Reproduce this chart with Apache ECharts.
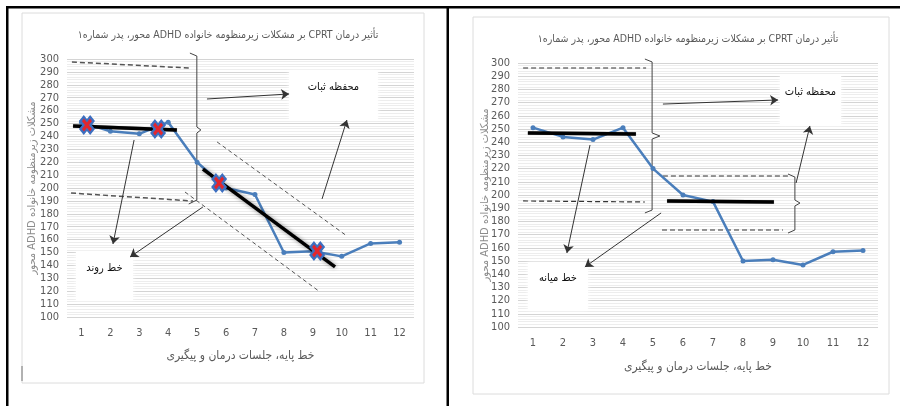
<!DOCTYPE html>
<html><head><meta charset="utf-8">
<script src="https://cdn.jsdelivr.net/npm/echarts@6/dist/echarts.min.js"></script>
<style>html,body{margin:0;padding:0;background:#fff}#c{width:900px;height:406px}</style>
</head><body><div id="c"></div>
<script>
// ---------- data ----------
const sessions = ['1','2','3','4','5','6','7','8','9','10','11','12'];
const scores = [251, 244, 242, 251, 220, 200, 195, 150, 151, 147, 157, 158];
const chartTitle = 'تأثیر درمان CPRT بر مشکلات زیرمنظومه خانواده ADHD محور، پدر شماره۱';
const xName = 'خط پایه، جلسات درمان و پیگیری';
const yName = 'مشکلات زیرمنظومه خانواده ADHD محور';

// left panel (trend) annotations, in [session, score] units
const leftTrendA = [[0.71, 248], [4.3, 245]];
const leftTrendB = [[5.2, 214.7], [9.77, 138.8]];
const leftMarkers = [[1.19, 248.8], [3.65, 245.7], [5.76, 203.9], [9.15, 151.2]];
const leftDashedBold = [[[0.67, 297.7], [4.75, 293]], [[0.64, 196.1], [4.86, 189.9]]];
const leftDashedThin = [[[5.69, 235.7], [10.18, 162.8]], [[4.58, 196.9], [9.25, 119.4]]];
const leftBraces = [[[4.75, 304.6], [4.99, 302.3], [4.99, 247.3], [5.13, 245], [4.99, 242.6], [4.99, 190.7], [4.71, 187.6]]];
const leftArrows = [[[5.34, 269], [8.18, 272.9]], [[9.32, 191.5], [10.18, 252.7]], [[2.82, 237.2], [2.09, 156.6]], [[5.2, 185.3], [2.68, 146.5]]];
const leftBoxes = [
  { text: 'محفظه ثبات', from: [8.18, 290.7], to: [11.25, 253.5] },
  { text: 'خط روند', from: [0.81, 150.4], to: [2.78, 113.2] }
];

// right panel (mean) annotations
const rightMeanA = [[0.83, 247], [4.43, 246.2]];
const rightMeanB = [[5.47, 195.5], [9.03, 194.7]];
const rightDashed = [[[0.67, 296.2], [4.77, 296.2]], [[0.67, 195.5], [4.73, 194.7]], [[5.33, 214.4], [9.5, 214.4]], [[5.3, 173.5], [9.33, 173.5]]];
const rightBraces = [
  [[4.73, 303], [4.97, 300.8], [4.97, 247], [5.23, 244.7], [4.97, 242.4], [4.97, 188.6], [4.73, 186.4]],
  [[9.5, 215.9], [9.73, 213.6], [9.73, 196.2], [9.9, 193.9], [9.73, 191.7], [9.73, 173.5], [9.5, 171.2]]
];
const rightArrows = [[[5.33, 268.9], [9.17, 272]], [[9.77, 209.1], [10.23, 252.3]], [[2.9, 237.9], [2.13, 156.1]], [[5.27, 186.4], [2.73, 145.5]]];
const rightBoxes = [
  { text: 'محفظه ثبات', from: [9.23, 290.2], to: [11.27, 253.0] },
  { text: 'خط میانه', from: [0.83, 149.2], to: [2.83, 112.9] }
];

// ---------- styling ----------
const FONT = "'Liberation Sans Narrow','DejaVu Sans Condensed','DejaVu Sans',sans-serif";
const GRAY = '#595959';
const BLUE = '#4a7ebb';
const rtl = s => '\u202B' + s + '\u202C';

function axesFor(gi) {
  return {
    x: [
      { type: 'category', gridIndex: gi, data: sessions, boundaryGap: true,
        axisLine: { show: false }, axisTick: { show: false },
        axisLabel: { color: GRAY, fontFamily: FONT, fontSize: 11, margin: 11 },
        name: rtl(xName), nameLocation: 'middle', nameGap: gi === 0 ? 33 : 34, nameMoveOverlap: false,
        nameTextStyle: { color: GRAY, fontFamily: FONT, fontSize: 12 } },
      { type: 'value', gridIndex: gi, min: 0.5, max: 12.5, show: false }
    ],
    y: { type: 'value', gridIndex: gi, min: 100, max: 300, interval: 10,
      axisLine: { show: false }, axisTick: { show: false },
      axisLabel: { color: GRAY, fontFamily: FONT, fontSize: 11, margin: 8 },
      splitLine: { lineStyle: { color: '#d4d4d4', width: 1 } },
      minorTick: { show: false, splitNumber: 5 },
      minorSplitLine: { show: true, lineStyle: { color: '#ededed', width: 1 } },
      name: rtl(yName), nameLocation: 'middle', nameRotate: 90, nameGap: gi === 0 ? 29 : 27, nameMoveOverlap: false,
      nameTextStyle: { color: '#8c8c8c', fontFamily: FONT, fontSize: 11 } }
  };
}
const a0 = axesFor(0), a1 = axesFor(1);

function lineSeries(xi, yi, data, color, width, type, extra) {
  return Object.assign({ type: 'lines', coordinateSystem: 'cartesian2d', xAxisIndex: xi, yAxisIndex: yi,
    polyline: true, clip: false, silent: true,
    data: data.map(c => ({ coords: c })),
    lineStyle: { color: color, width: width, type: type, opacity: 1 } }, extra || {});
}
function arrows(xi, yi, data) {
  return { type: 'lines', coordinateSystem: 'cartesian2d', xAxisIndex: xi, yAxisIndex: yi, clip: false, silent: true,
    symbol: ['none', 'arrow'], symbolSize: 8,
    data: data.map(c => ({ coords: c })),
    lineStyle: { color: '#333', width: 1, opacity: 1 } };
}
function boxes(xi, yi, list) {
  return { type: 'scatter', xAxisIndex: xi, yAxisIndex: yi, data: [], silent: true,
    markArea: { silent: true,
      itemStyle: { color: '#ffffff', shadowBlur: 4, shadowColor: 'rgba(255,255,255,0.9)' },
      label: { show: true, position: 'insideTop', distance: 11, color: '#111', fontFamily: FONT, fontSize: 11 },
      data: list.map(b => [{ coord: b.from, name: rtl(b.text) }, { coord: b.to }]) } };
}
function dataLine(xi, yi) {
  return { type: 'line', xAxisIndex: xi, yAxisIndex: yi, data: scores, symbol: 'circle', symbolSize: 5,
    lineStyle: { color: BLUE, width: 2.5 }, itemStyle: { color: BLUE }, z: 3 };
}
function thick(xi, yi, data, glow) {
  return { type: 'line', xAxisIndex: xi, yAxisIndex: yi, data: data, symbol: 'none', clip: false, z: 4,
    lineStyle: { color: '#000', width: 3.5, shadowBlur: glow ? 4 : 1, shadowColor: 'rgba(0,0,0,0.45)' } };
}

const option = {
  animation: false,
  backgroundColor: '#fff',
  title: [
    { text: rtl(chartTitle), left: 223, top: 25, textAlign: 'center',
      textStyle: { color: GRAY, fontFamily: FONT, fontSize: 10.5, fontWeight: 'normal' } },
    { text: rtl(chartTitle), left: 683, top: 29, textAlign: 'center',
      textStyle: { color: GRAY, fontFamily: FONT, fontSize: 10.5, fontWeight: 'normal' } }
  ],
  grid: [
    { left: 67, right: 486, top: 59, bottom: 89 },
    { left: 518, right: 22, top: 63, bottom: 79 }
  ],
  xAxis: [a0.x[0], a0.x[1], a1.x[0], a1.x[1]],
  yAxis: [a0.y, a1.y],
  graphic: [
    { type: 'rect', shape: { x: 22, y: 13, width: 402, height: 370 }, style: { fill: 'none', stroke: '#dcdcdc', lineWidth: 1 }, z: -1 },
    { type: 'rect', shape: { x: 473, y: 17, width: 416, height: 377 }, style: { fill: 'none', stroke: '#dcdcdc', lineWidth: 1 }, z: -1 },
    { type: 'line', shape: { x1: 22, y1: 366, x2: 22, y2: 381 }, style: { stroke: '#777', lineWidth: 1 } },
    { type: 'rect', shape: { x: 6, y: 6, width: 2.5, height: 400 }, style: { fill: '#000' } },
    { type: 'rect', shape: { x: 6, y: 6, width: 894, height: 2.5 }, style: { fill: '#000' } },
    { type: 'rect', shape: { x: 446.5, y: 6, width: 2.5, height: 400 }, style: { fill: '#000' } }
  ],
  series: [
    // left panel
    boxes(1, 0, leftBoxes),
    lineSeries(1, 0, leftDashedBold, '#555', 1.5, [5, 3]),
    lineSeries(1, 0, leftDashedThin, '#555', 1, [4, 3]),
    lineSeries(1, 0, leftBraces, '#444', 1, 'solid'),
    arrows(1, 0, leftArrows),
    dataLine(0, 0),
    thick(1, 0, leftTrendA, false),
    thick(1, 0, leftTrendB, true),
    { type: 'scatter', xAxisIndex: 1, yAxisIndex: 0, data: leftMarkers, z: 5,
      symbol: 'path://M0,3 L3,0 L5,2 L7,0 L10,3 L8,5 L10,7 L7,10 L5,8 L3,10 L0,7 L2,5 Z',
      symbolSize: [16, 20], itemStyle: { color: '#3d6fc0', opacity: 1 } },
    { type: 'scatter', xAxisIndex: 1, yAxisIndex: 0, data: leftMarkers, z: 6,
      symbol: 'path://M0,2 L2,0 L5,3 L8,0 L10,2 L7,5 L10,8 L8,10 L5,7 L2,10 L0,8 L3,5 Z',
      symbolSize: [10, 13], itemStyle: { color: '#e3262d', opacity: 1 } },
    // right panel
    boxes(3, 1, rightBoxes),
    lineSeries(3, 1, rightDashed, '#333', 1.2, [5, 3]),
    lineSeries(3, 1, rightBraces, '#444', 1, 'solid'),
    arrows(3, 1, rightArrows),
    dataLine(2, 1),
    thick(3, 1, rightMeanA, false),
    thick(3, 1, rightMeanB, false)
  ]
};
const chart = echarts.init(document.getElementById('c'));
chart.setOption(option);
</script></body></html>
